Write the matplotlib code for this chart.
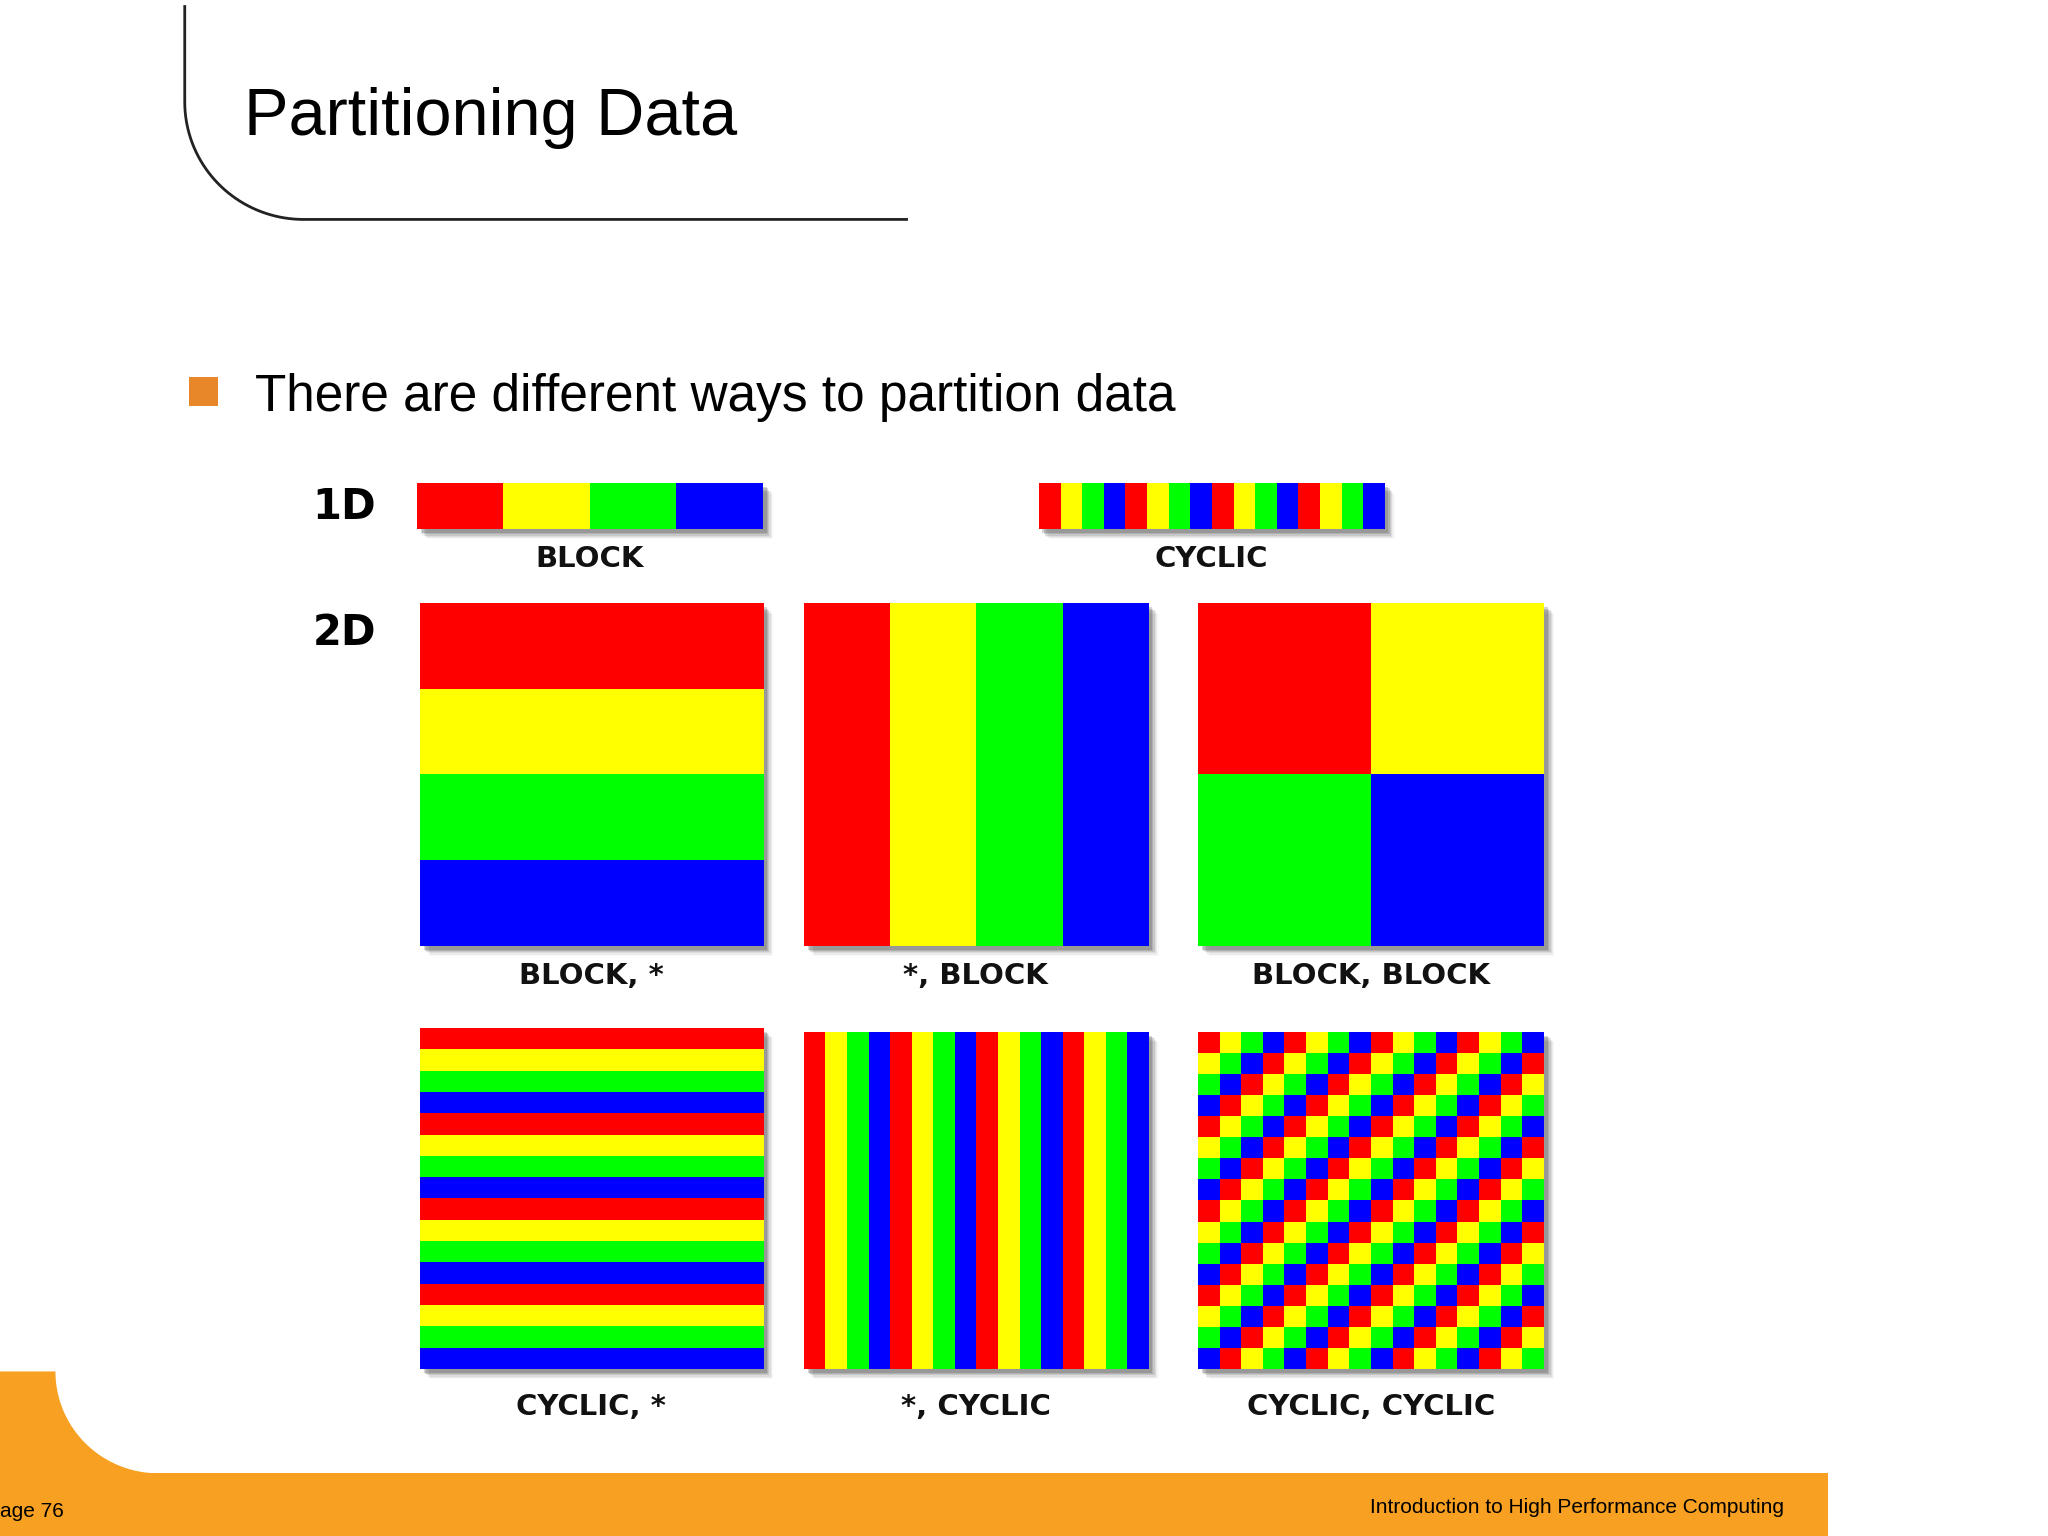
import matplotlib
matplotlib.use('Agg')
import matplotlib.pyplot as plt
import numpy as np
from matplotlib.colors import ListedColormap
from matplotlib.patches import Rectangle, Polygon

# ========== DATA ==========
COLORS = ['#FF0000', '#FFFF00', '#00FF00', '#0000FF']
TITLE = 'Partitioning Data'
BULLET = 'There are different ways to partition data'
FOOT_LEFT = 'age 76'
FOOT_RIGHT = 'Introduction to High Performance Computing'

N = 16
idx = np.arange(N)
# partition owner grids (processor index 0..3)
patterns = {
    '1D BLOCK': (idx // 4)[None, :],
    '1D CYCLIC': (idx % 4)[None, :],
    'BLOCK, *': np.repeat((idx // 4)[:, None], N, axis=1),
    '*, BLOCK': np.repeat((idx // 4)[None, :], N, axis=0),
    'BLOCK, BLOCK': (idx[:, None] // 8) * 2 + (idx[None, :] // 8),
    'CYCLIC, *': np.repeat((idx % 4)[:, None], N, axis=1),
    '*, CYCLIC': np.repeat((idx % 4)[None, :], N, axis=0),
    'CYCLIC, CYCLIC': (idx[:, None] + idx[None, :]) % 4,
}
labels_1d = {'1D BLOCK': 'BLOCK', '1D CYCLIC': 'CYCLIC'}

# ========== LAYOUT (display units 1552 x 1176, y down) ==========
W, H = 1552, 1176
boxes = {
    '1D BLOCK': (316, 370, 262, 35, 428),
    '1D CYCLIC': (787, 370, 262, 35, 428),
    'BLOCK, *': (318, 462, 260, 262, 747),
    '*, BLOCK': (609, 462, 261, 262, 747),
    'BLOCK, BLOCK': (908, 462, 262, 262, 747),
    'CYCLIC, *': (318, 787, 260, 261, 1077),
    '*, CYCLIC': (609, 790, 261, 258, 1077),
    'CYCLIC, CYCLIC': (908, 790, 262, 258, 1077),
}

fig = plt.figure(figsize=(20.48, 15.36), dpi=100)
ax = fig.add_axes([0, 0, 1, 1])
ax.set_xlim(0, W)
ax.set_ylim(H, 0)
ax.axis('off')

# title with curved rule
t = np.linspace(np.pi, np.pi / 2, 40)
cx, cy, r = 230, 78, 90
xs = np.concatenate([[140], cx + r * np.cos(t), [687]])
ys = np.concatenate([[5], cy + r * np.sin(t), [168]])
ax.plot(xs, ys, color='#222222', lw=2)
ax.text(185, 90, TITLE, fontsize=48, family='Liberation Sans', va='center', ha='left')

# bullet
ax.add_patch(Rectangle((143, 289), 22, 22, color='#E8872A', lw=0))
ax.text(193, 304, BULLET, fontsize=37, family='Liberation Sans', va='center', ha='left')

ax.text(237, 388, '1D', fontsize=30, fontweight='bold', va='center', ha='left')
ax.text(237, 485, '2D', fontsize=30, fontweight='bold', va='center', ha='left')

cmap = ListedColormap(COLORS)
for name, (x, y, w, h, ly) in boxes.items():
    # soft shadow
    for k, a in zip(range(1, 7), [0.25, 0.2, 0.15, 0.1, 0.07, 0.04]):
        ax.add_patch(Rectangle((x + k + 2, y + k + 2), w, h, color='#555555',
                               alpha=a, lw=0, zorder=1))
    ax.imshow(patterns[name], cmap=cmap, vmin=-0.5, vmax=3.5, interpolation='nearest',
              extent=(x, x + w, y + h, y), aspect='auto', zorder=2)
    ax.text(x + w / 2, ly, labels_1d.get(name, name), fontsize=21, fontweight='bold',
            va='center', ha='center', color='#111111')
ax.set_xlim(0, W)
ax.set_ylim(H, 0)

# footer
orange = '#F7A021'
ax.add_patch(Rectangle((0, 1128), 1385, 48, color=orange, lw=0))
t = np.linspace(np.pi, np.pi / 2, 40)
px = np.concatenate([[0, 42], 120 + 78 * np.cos(t), [120, 0]])
py = np.concatenate([[1050, 1050], 1050 + 78 * np.sin(t), [1176, 1176]])
ax.add_patch(Polygon(np.column_stack([px, py]), closed=True, color=orange, lw=0))
ax.text(0, 1157, FOOT_LEFT, fontsize=15, family='Liberation Sans', va='center', ha='left')
ax.text(1352, 1154, FOOT_RIGHT, fontsize=15, family='Liberation Sans', va='center', ha='right')

fig.savefig('out.png', dpi=100)
